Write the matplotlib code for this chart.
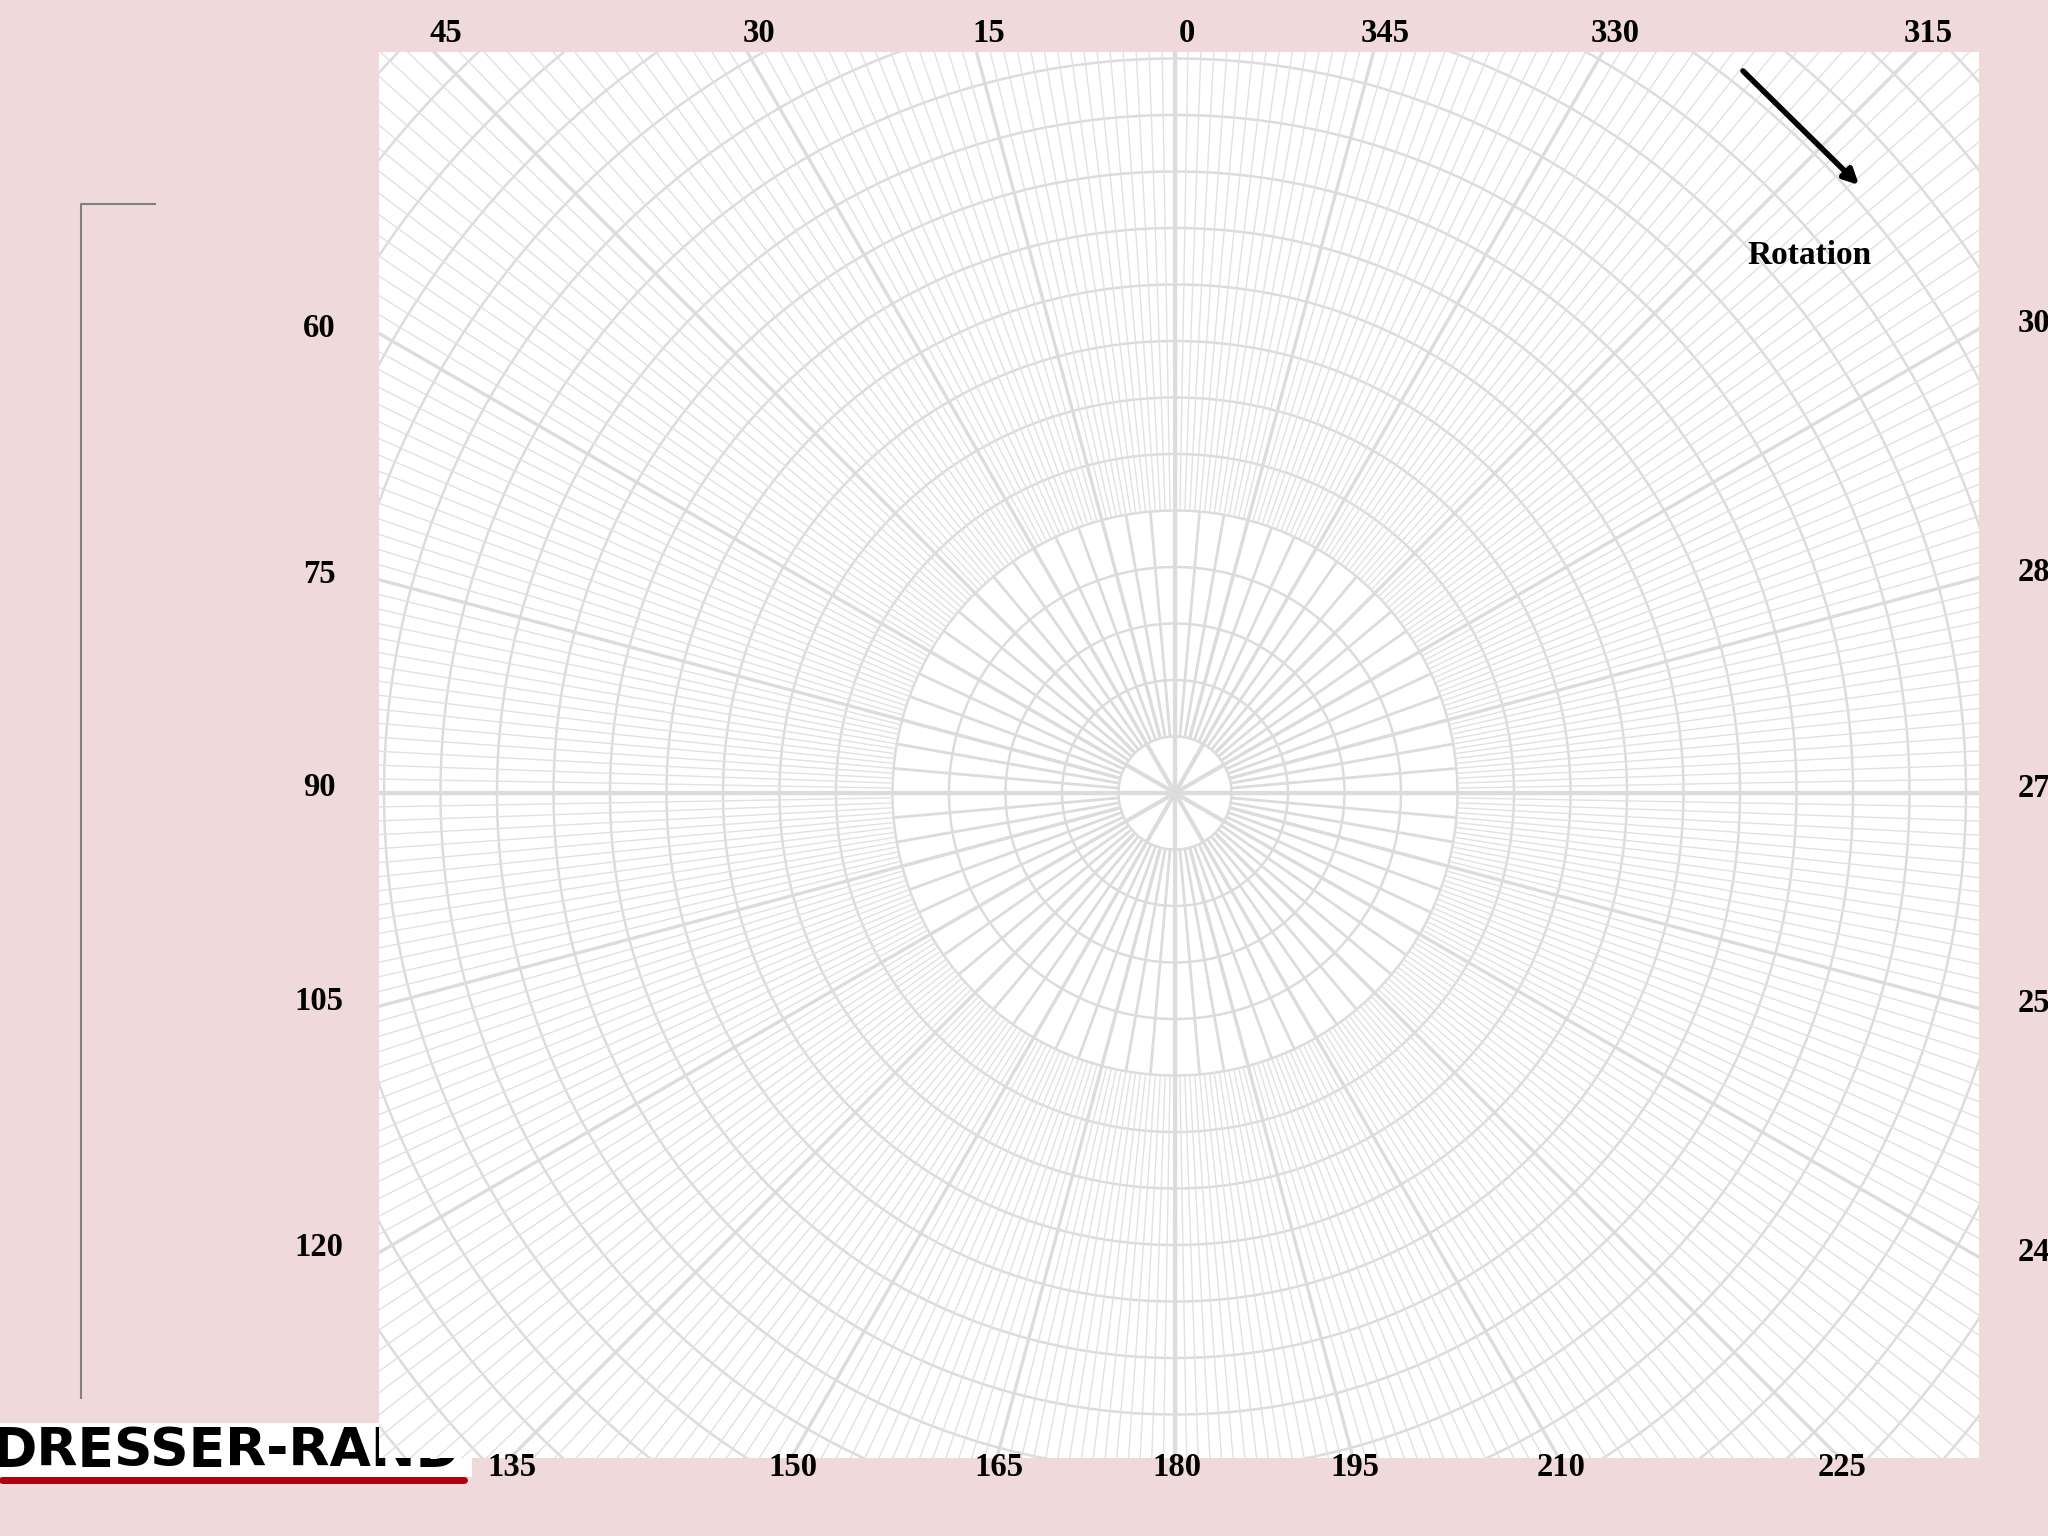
import numpy as np
import matplotlib
matplotlib.use("Agg")
import matplotlib.pyplot as plt
from matplotlib.patches import Rectangle, FancyArrowPatch
from matplotlib.lines import Line2D

# polar graph paper: rings and spokes
ring_radii = [1, 2, 3, 4, 5, 6, 7, 8, 9, 10, 11, 12, 13, 14, 15, 16, 17, 18, 19, 20]
r_max = 20
hub_radius = 1          # 30 deg spokes inside this
inner_radius = 5        # 5 deg spokes up to this, 1 deg beyond
hub_step = 30
inner_step = 5
fine_step = 1
major_step = 15

label_angles = [0, 15, 30, 45, 60, 75, 90, 105, 120, 135, 150, 165,
                180, 195, 210, 225, 240, 255, 270, 285, 300, 315, 330, 345]
label_texts = [str(a) for a in label_angles]

# layout in pixels (image 2048 x 1536, y from top)
W, H = 2048, 1536
cx, cy = 1175, 793
unit_px = 56.5
sq_left, sq_right, sq_top, sq_bottom = 379, 1979, 52, 1458

pink = '#efd9db'
grid_col = '#dcdcdc'

fig = plt.figure(figsize=(W / 100, H / 100), dpi=100, facecolor=pink)


def fx(px):
    return px / W


def fy(py):
    return 1 - py / H


# white square sheet
sheet = Rectangle((fx(sq_left), fy(sq_bottom)), (sq_right - sq_left) / W,
                  (sq_bottom - sq_top) / H, transform=fig.transFigure,
                  facecolor='white', edgecolor='none', zorder=-2)
fig.add_artist(sheet)

# polar axes centred on the chart centre
half = r_max * unit_px
ax = fig.add_axes([fx(cx - half), fy(cy + half), 2 * half / W, 2 * half / H],
                  projection='polar')
ax.patch.set_visible(False)
ax.spines['polar'].set_visible(False)
ax.set_theta_zero_location('N')
ax.set_theta_direction(1)
ax.set_rlim(0, r_max)
ax.set_xticks([])
ax.set_yticks([])
ax.grid(False)

arts = []
# rings
th = np.linspace(0, 2 * np.pi, 1441)
for r in ring_radii:
    arts += ax.plot(th, np.full_like(th, r), color=grid_col, lw=1.8)

# spokes
hub_angles = np.radians(np.arange(0, 360, hub_step))
inner_angles = np.radians(np.arange(0, 360, inner_step))
fine_angles = np.radians(np.arange(0, 360, fine_step))
major_angles = np.radians(np.arange(0, 360, major_step))
axis_angles = np.radians([0, 90, 180, 270])

arts.append(ax.vlines(fine_angles, inner_radius, r_max, color='#e1e1e1', lw=1.0))
arts.append(ax.vlines(inner_angles, hub_radius, inner_radius, color=grid_col, lw=2.0))
arts.append(ax.vlines(major_angles, hub_radius, r_max, color=grid_col, lw=2.4))
arts.append(ax.vlines(hub_angles, 0, hub_radius, color=grid_col, lw=3.0))
arts.append(ax.vlines(axis_angles, 0, r_max, color=grid_col, lw=3.0))
for a in arts:
    a.set_clip_path(sheet)

# angle labels on the square border
L = (sq_left - cx) / unit_px
R = (sq_right - cx) / unit_px
T = (cy - sq_top) / unit_px
B = (cy - sq_bottom) / unit_px
k = 0.72  # px -> pt
for ang, txt in zip(label_angles, label_texts):
    a = np.radians(ang)
    dx, dy = -np.sin(a), np.cos(a)
    hits = []
    if dx < -1e-9:
        hits.append((L / dx, 'left'))
    if dx > 1e-9:
        hits.append((R / dx, 'right'))
    if dy > 1e-9:
        hits.append((T / dy, 'top'))
    if dy < -1e-9:
        hits.append((B / dy, 'bottom'))
    t, edge = min(hits)
    if edge == 'top':
        off, ha = (12, 18), 'center'
    elif edge == 'bottom':
        off, ha = (2, -9), 'center'
    elif edge == 'left':
        off, ha = (-60, 5), 'center'
    else:
        off, ha = (39, 5), 'left'
    ax.annotate(txt, xy=(a, t), xytext=(off[0] * k, off[1] * k),
                textcoords='offset points', ha=ha, va='center',
                fontsize=23.5, fontweight='bold', family='Liberation Serif',
                annotation_clip=False)

# rotation arrow
arrow = FancyArrowPatch((fx(1741), fy(69)), (fx(1861), fy(187)),
                        transform=fig.transFigure, arrowstyle='-|>',
                        mutation_scale=22, lw=4, color='black', zorder=5)
fig.add_artist(arrow)
fig.text(fx(1810), fy(255), 'Rotation', ha='center', va='center', fontsize=24,
         fontweight='bold', family='Liberation Serif')

# left bracket line
fig.add_artist(Line2D([fx(155), fx(81), fx(81)], [fy(204), fy(204), fy(1398)],
                      transform=fig.transFigure, color='#808080', lw=1.5))

# logo behind the sheet
fig.add_artist(Rectangle((0, fy(1477)), fx(472), (1477 - 1423) / H,
                         transform=fig.transFigure, facecolor='white',
                         edgecolor='none', zorder=-4))
fig.text(fx(-8), fy(1466), 'DRESSER-RAND', ha='left', va='baseline',
         fontsize=38.5, fontweight='heavy', family='DejaVu Sans', zorder=-3)
fig.add_artist(Line2D([fx(2), fx(464)], [fy(1480), fy(1480)],
                      transform=fig.transFigure, color='#b0000e', lw=5,
                      solid_capstyle='round', zorder=-3))

fig.savefig('out.png', dpi=100, facecolor=fig.get_facecolor())
